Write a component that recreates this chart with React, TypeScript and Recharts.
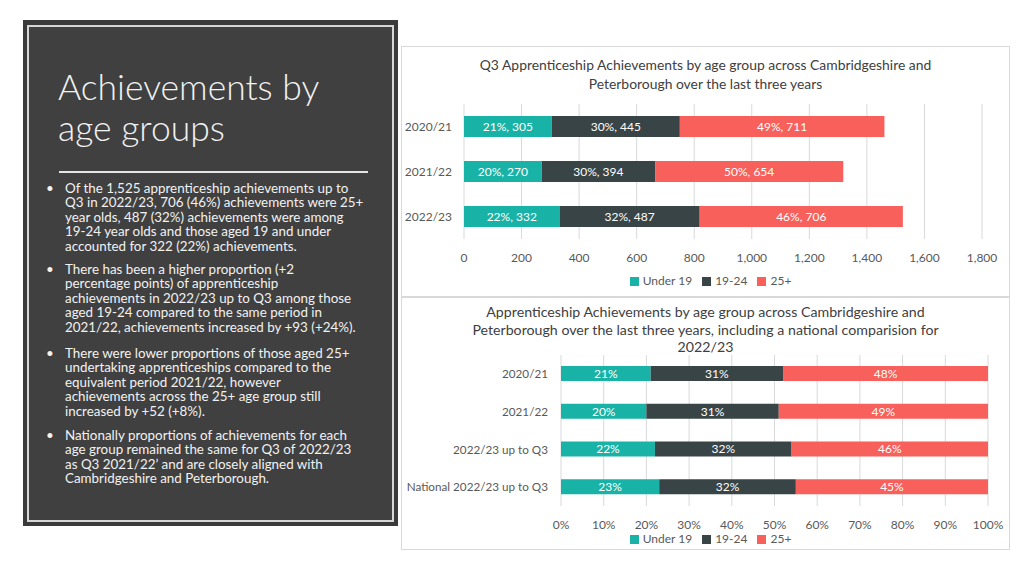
import { Bar, BarChart, CartesianGrid, LabelList, Legend, XAxis, YAxis } from "recharts";

const FONT = "Lato, 'Open Sans', sans-serif";

// Q3 counts by age group
const years = ["2020/21", "2021/22", "2022/23"];
const under19 = [305, 270, 332];
const age1924 = [445, 394, 487];
const age25plus = [711, 654, 706];
const countTicks = [0, 200, 400, 600, 800, 1000, 1200, 1400, 1600, 1800];

// shares incl. national comparison
const shareCategories = ["2020/21", "2021/22", "2022/23 up to Q3", "National 2022/23 up to Q3"];
const under19Share = [21, 20, 22, 23];
const age1924Share = [31, 31, 32, 32];
const age25plusShare = [48, 49, 46, 45];
const shareTicks = [0, 10, 20, 30, 40, 50, 60, 70, 80, 90, 100];

const seriesNames = ["Under 19", "19-24", "25+"];

const COLORS = { u19: "#18b3a6", mid: "#394446", over: "#f8605b" };
const TEXT = "#595959";

const bullets = [
  [
    "Of the 1,525 apprenticeship achievements up to",
    "Q3 in 2022/23, 706 (46%) achievements were 25+",
    "year olds, 487 (32%) achievements were among",
    "19-24 year olds and those aged 19 and under",
    "accounted for 322 (22%) achievements.",
  ],
  [
    "There has been a higher proportion (+2",
    "percentage points) of apprenticeship",
    "achievements in 2022/23 up to Q3 among those",
    "aged 19-24 compared to the same period in",
    "2021/22, achievements increased by +93 (+24%).",
  ],
  [
    "There were lower proportions of those aged 25+",
    "undertaking apprenticeships compared to the",
    "equivalent period 2021/22, however",
    "achievements across the 25+ age group still",
    "increased by +52 (+8%).",
  ],
  [
    "Nationally proportions of achievements for each",
    "age group remained the same for Q3 of 2022/23",
    "as Q3 2021/22’ and are closely aligned with",
    "Cambridgeshire and Peterborough.",
  ],
];
const bulletTops = [181, 262, 346, 428];

const countData = years.map((year, i) => {
  const total = under19[i] + age1924[i] + age25plus[i];
  const lab = (v: number) => `${Math.round((v / total) * 100)}%, ${v}`;
  return {
    year,
    u19: under19[i],
    mid: age1924[i],
    over: age25plus[i],
    u19Label: lab(under19[i]),
    midLabel: lab(age1924[i]),
    overLabel: lab(age25plus[i]),
  };
});

const shareData = shareCategories.map((name, i) => ({
  name,
  u19: under19Share[i],
  mid: age1924Share[i],
  over: age25plusShare[i],
}));

const tickStyle = { fill: TEXT, fontSize: 12, fontFamily: FONT };
const labelStyle = { fill: "#ffffff", fontSize: 12, fontFamily: FONT };
const legendText = (v: string) => <span style={{ color: TEXT }}>{v}</span>;
const legendOrder = (item: any) => seriesNames.indexOf(item.value);
const legendWrap = { fontSize: 12, fontFamily: FONT, left: 10, width: 609 };

// plain y tick, no wrapping
const CategoryTick = (props: any) => {
  const { x, y, payload, size } = props;
  return (
    <text x={x} y={y} dy="0.355em" textAnchor="end" fill={TEXT} fontSize={size || 12} fontFamily={FONT}>
      {payload.value}
    </text>
  );
};

const SidePanel = () => (
  <div style={{ position: "absolute", left: 23, top: 20, width: 375, height: 506, background: "#3a3a3a" }}>
    <div
      style={{
        position: "absolute",
        left: 4,
        top: 5,
        right: 4,
        bottom: 4,
        border: "2px solid #d6d6d6",
        background: "#404040",
      }}
    />
  </div>
);

const App = () => {
  return (
    <div style={{ position: "absolute", left: 0, top: 0, width: 1024, height: 576, background: "#fff", fontFamily: FONT }}>
      <SidePanel />
      <div
        style={{
          position: "absolute",
          left: 58,
          top: 66,
          fontSize: 35.5,
          lineHeight: "41px",
          fontWeight: 300,
          color: "#f2f2f2",
          whiteSpace: "nowrap",
        }}
      >
        Achievements by
        <br />
        age groups
      </div>
      <div style={{ position: "absolute", left: 59, top: 171, width: 309, height: 2, background: "#e6e6e6" }} />
      {bullets.map((lines, b) => (
        <div
          key={b}
          style={{
            position: "absolute",
            left: 65,
            top: bulletTops[b],
            fontSize: 13.4,
            lineHeight: "14.4px",
            color: "#f2f2f2",
            whiteSpace: "nowrap",
          }}
        >
          <span style={{ position: "absolute", left: -19, top: 0 }}>•</span>
          {lines.map((l, i) => (
            <div key={i}>{l}</div>
          ))}
        </div>
      ))}

      {/* top chart: counts */}
      <div style={{ position: "absolute", left: 401, top: 46, width: 609, height: 251, border: "1px solid #d9d9d9", boxSizing: "border-box" }}>
        <div
          style={{
            position: "absolute",
            left: 0,
            top: 8,
            width: 607,
            textAlign: "center",
            fontSize: 13.9,
            lineHeight: "19px",
            color: "#404040",
          }}
        >
          Q3 Apprenticeship Achievements by age group across Cambridgeshire and
          <br />
          Peterborough over the last three years
        </div>
        <div style={{ position: "absolute", left: -1, top: -1 }}>
          <BarChart
            width={609}
            height={251}
            data={countData}
            layout="vertical"
            margin={{ top: 58, right: 28, bottom: 8, left: 0 }}
          >
            <CartesianGrid horizontal={false} stroke="#d9d9d9" />
            <XAxis
              type="number"
              domain={[0, 1800]}
              ticks={countTicks}
              interval={0}
              tickFormatter={(v: number) => v.toLocaleString("en-US")}
              axisLine={false}
              tickLine={false}
              tickSize={6}
              tickMargin={8}
              height={34}
              tick={tickStyle}
            />
            <YAxis
              type="category"
              dataKey="year"
              width={63}
              axisLine={false}
              tickLine={false}
              tickSize={6}
              tickMargin={6}
              tick={<CategoryTick />}
            />
            <Legend
              verticalAlign="bottom"
              height={16}
              iconType="square"
              iconSize={9}
              itemSorter={legendOrder}
              formatter={legendText}
              wrapperStyle={legendWrap}
            />
            <Bar dataKey="u19" name="Under 19" stackId="a" fill={COLORS.u19} barSize={21} isAnimationActive={false}>
              <LabelList dataKey="u19Label" position="center" style={labelStyle} />
            </Bar>
            <Bar dataKey="mid" name="19-24" stackId="a" fill={COLORS.mid} barSize={21} isAnimationActive={false}>
              <LabelList dataKey="midLabel" position="center" style={labelStyle} />
            </Bar>
            <Bar dataKey="over" name="25+" stackId="a" fill={COLORS.over} barSize={21} isAnimationActive={false}>
              <LabelList dataKey="overLabel" position="center" style={labelStyle} />
            </Bar>
          </BarChart>
        </div>
      </div>

      {/* bottom chart: shares */}
      <div style={{ position: "absolute", left: 401, top: 297, width: 609, height: 253, border: "1px solid #d9d9d9", boxSizing: "border-box" }}>
        <div
          style={{
            position: "absolute",
            left: 0,
            top: 5,
            width: 607,
            textAlign: "center",
            fontSize: 14.2,
            lineHeight: "17.5px",
            color: "#404040",
          }}
        >
          Apprenticeship Achievements by age group across Cambridgeshire and
          <br />
          Peterborough over the last three years, including a national comparision for
          <br />
          2022/23
        </div>
        <div style={{ position: "absolute", left: -1, top: -1 }}>
          <BarChart
            width={609}
            height={253}
            data={shareData}
            layout="vertical"
            margin={{ top: 58, right: 22, bottom: 5, left: 0 }}
          >
            <CartesianGrid horizontal={false} stroke="#d9d9d9" />
            <XAxis
              type="number"
              domain={[0, 100]}
              ticks={shareTicks}
              interval={0}
              tickFormatter={(v: number) => `${v}%`}
              axisLine={false}
              tickLine={false}
              tickSize={6}
              tickMargin={8}
              height={25}
              tick={tickStyle}
            />
            <YAxis
              type="category"
              dataKey="name"
              width={160}
              axisLine={false}
              tickLine={false}
              tickSize={6}
              tickMargin={7}
              tick={<CategoryTick size={11.7} />}
            />
            <Legend
              verticalAlign="bottom"
              height={14}
              iconType="square"
              iconSize={9}
              itemSorter={legendOrder}
              formatter={legendText}
              wrapperStyle={legendWrap}
            />
            <Bar dataKey="u19" name="Under 19" stackId="a" fill={COLORS.u19} barSize={15} isAnimationActive={false}>
              <LabelList dataKey="u19" position="center" formatter={(v: number) => `${v}%`} style={labelStyle} />
            </Bar>
            <Bar dataKey="mid" name="19-24" stackId="a" fill={COLORS.mid} barSize={15} isAnimationActive={false}>
              <LabelList dataKey="mid" position="center" formatter={(v: number) => `${v}%`} style={labelStyle} />
            </Bar>
            <Bar dataKey="over" name="25+" stackId="a" fill={COLORS.over} barSize={15} isAnimationActive={false}>
              <LabelList dataKey="over" position="center" formatter={(v: number) => `${v}%`} style={labelStyle} />
            </Bar>
          </BarChart>
        </div>
      </div>
    </div>
  );
};

export default App;
